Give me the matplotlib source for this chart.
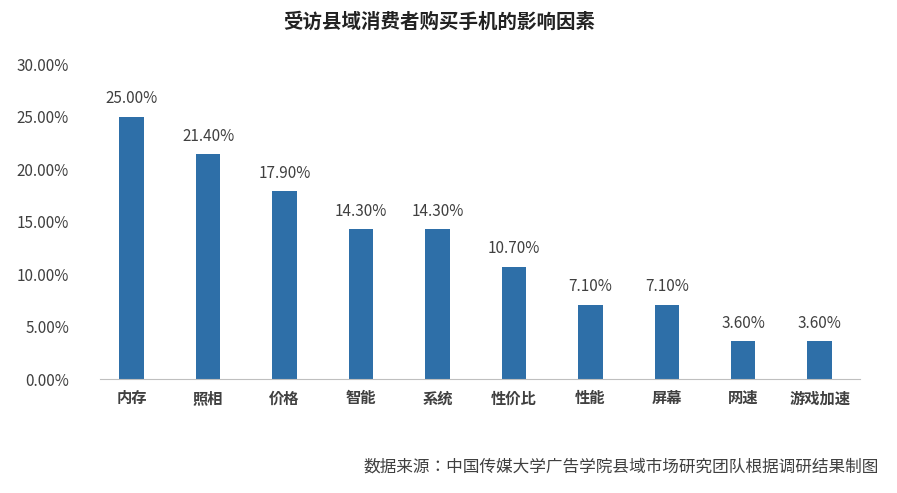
import matplotlib.pyplot as plt
from matplotlib import font_manager
from matplotlib.ticker import FuncFormatter

# pick an installed CJK family
cjk = [f.name for f in font_manager.fontManager.ttflist if "CJK" in f.name]
sc = [n for n in cjk if "SC" in n]
plt.rcParams["font.family"] = (sc or cjk or ["DejaVu Sans"])[0]

# chart data
factors = ["内存", "照相", "价格", "智能", "系统", "性价比", "性能", "屏幕", "网速", "游戏加速"]
shares = [25.0, 21.4, 17.9, 14.3, 14.3, 10.7, 7.1, 7.1, 3.6, 3.6]
y_ticks = [0, 5, 10, 15, 20, 25, 30]

fig = plt.figure(figsize=(8.97, 4.93), dpi=100)
ax = fig.add_axes([0.111, 0.231, 0.848, 0.639])

x = range(len(factors))
ax.bar(x, shares, width=0.32, color="#2e6fa8")
for xi, v in zip(x, shares):
    ax.text(xi, v + 0.9, f"{v:.2f}%", ha="center", va="bottom", fontsize=11, color="#404040")

ax.set_xlim(-0.42, len(factors) - 0.47)
ax.set_ylim(0, 30)
ax.set_yticks(y_ticks)
ax.yaxis.set_major_formatter(FuncFormatter(lambda v, _: f"{v:.2f}%"))
ax.set_xticks(list(x))
ax.set_xticklabels(factors, fontweight="bold")
ax.tick_params(axis="y", length=0, labelsize=11, labelcolor="#404040", pad=22)
ax.tick_params(axis="x", length=0, labelsize=11, labelcolor="#404040", pad=8)
for s in ["top", "right", "left"]:
    ax.spines[s].set_visible(False)
ax.spines["bottom"].set_color("#bfbfbf")

fig.text(0.49, 0.955, "受访县域消费者购买手机的影响因素", ha="center", va="center",
         fontsize=14, fontweight="bold", color="#222222")
fig.text(0.98, 0.053, "数据来源：中国传媒大学广告学院县域市场研究团队根据调研结果制图",
         ha="right", va="center", fontsize=12, color="#404040")

fig.savefig("out.png", dpi=100)
